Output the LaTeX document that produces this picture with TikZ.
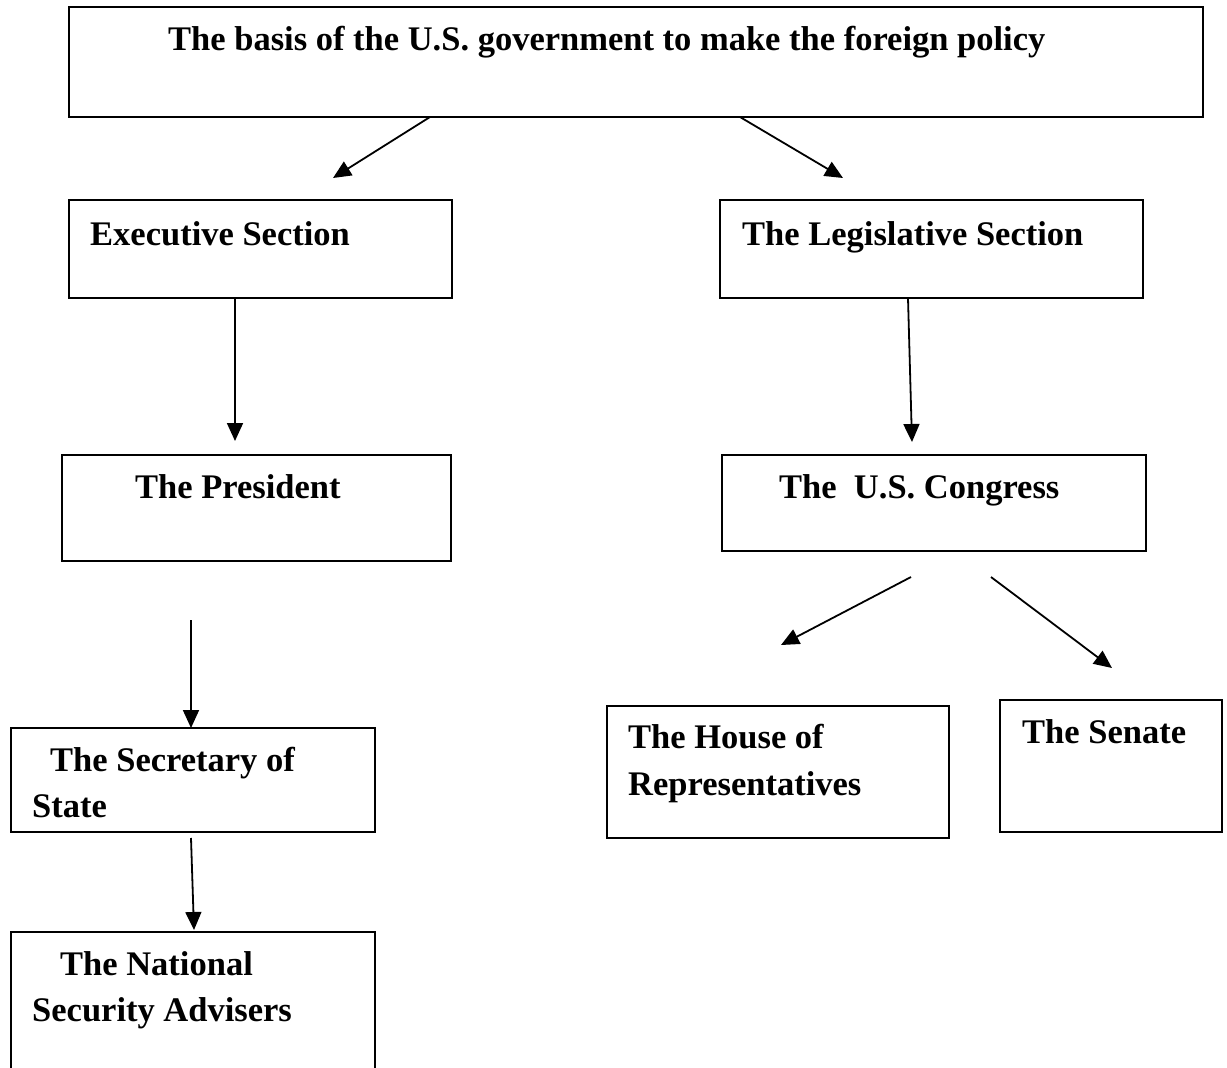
\documentclass[tikz,border=0pt]{standalone}
\usepackage{fontspec}
\setmainfont{Liberation Serif}
\usetikzlibrary{arrows.meta}
\begin{document}
\begin{tikzpicture}[x=1pt,y=-1pt,
  box/.style={draw=black,line width=2pt,inner sep=0pt,rectangle},
  txt/.style={anchor=base west,inner sep=0pt,font=\fontsize{34.5}{46}\selectfont\bfseries},
  arr/.style={line width=1.8pt,-{Triangle[length=18pt,width=16pt]}}]
\clip (0,0) rectangle (1227,1068);
\fill[white] (0,0) rectangle (1227,1068);
% boxes
\node[box,minimum width=1134pt,minimum height=110pt] (top) at (636,62) {};
\node[box,minimum width=383pt,minimum height=98pt] (exec) at (260.5,249) {};
\node[box,minimum width=423pt,minimum height=98pt] (legis) at (931.5,249) {};
\node[box,minimum width=389pt,minimum height=106pt] (pres) at (256.5,508) {};
\node[box,minimum width=424pt,minimum height=96pt] (cong) at (934,503) {};
\node[box,minimum width=364pt,minimum height=104pt] (sec) at (193,780) {};
\node[box,minimum width=364pt,minimum height=168pt] (nat) at (193,1016) {};
\node[box,minimum width=342pt,minimum height=132pt] (house) at (778,772) {};
\node[box,minimum width=222pt,minimum height=132pt] (senate) at (1111,766) {};
% texts
\node[txt] (ttop) at (168,50) {The basis of the U.S. government to make the foreign policy};
\node[txt] (texec) at (90,245) {Executive Section};
\node[txt] (tlegis) at (742,245) {The Legislative Section};
\node[txt] (tpres) at (135,498) {The President};
\node[txt] (tcong) at (779,498) {The~~U.S. Congress};
\node[txt] (tsec1) at (50,771) {The Secretary of};
\node[txt] (tsec2) at (32,817) {State};
\node[txt] (tnat1) at (60,975) {The National};
\node[txt] (tnat2) at (32,1021) {Security Advisers};
\node[txt] (thouse1) at (628,748) {The House of};
\node[txt] (thouse2) at (628,795) {Representatives};
\node[txt] (tsen) at (1022,743) {The Senate};
% connector end points
\coordinate (a1s) at (430,117); \coordinate (a1e) at (333,178);
\coordinate (a2s) at (740,117); \coordinate (a2e) at (843,178);
\coordinate (a3s) at (235,298); \coordinate (a3e) at (235,441);
\coordinate (a4s) at (908,298); \coordinate (a4e) at (912,442);
\coordinate (a5s) at (191,620); \coordinate (a5e) at (191,728);
\coordinate (a6s) at (191,838); \coordinate (a6e) at (194,930);
\coordinate (a7s) at (911,577); \coordinate (a7e) at (781,645);
\coordinate (a8s) at (991,577); \coordinate (a8e) at (1112,668);
% connectors
\draw[arr] (a1s) -- (a1e);
\draw[arr] (a2s) -- (a2e);
\draw[arr] (a3s) -- (a3e);
\draw[arr] (a4s) -- (a4e);
\draw[arr] (a5s) -- (a5e);
\draw[arr] (a6s) -- (a6e);
\draw[arr] (a7s) -- (a7e);
\draw[arr] (a8s) -- (a8e);
\end{tikzpicture}
\end{document}
